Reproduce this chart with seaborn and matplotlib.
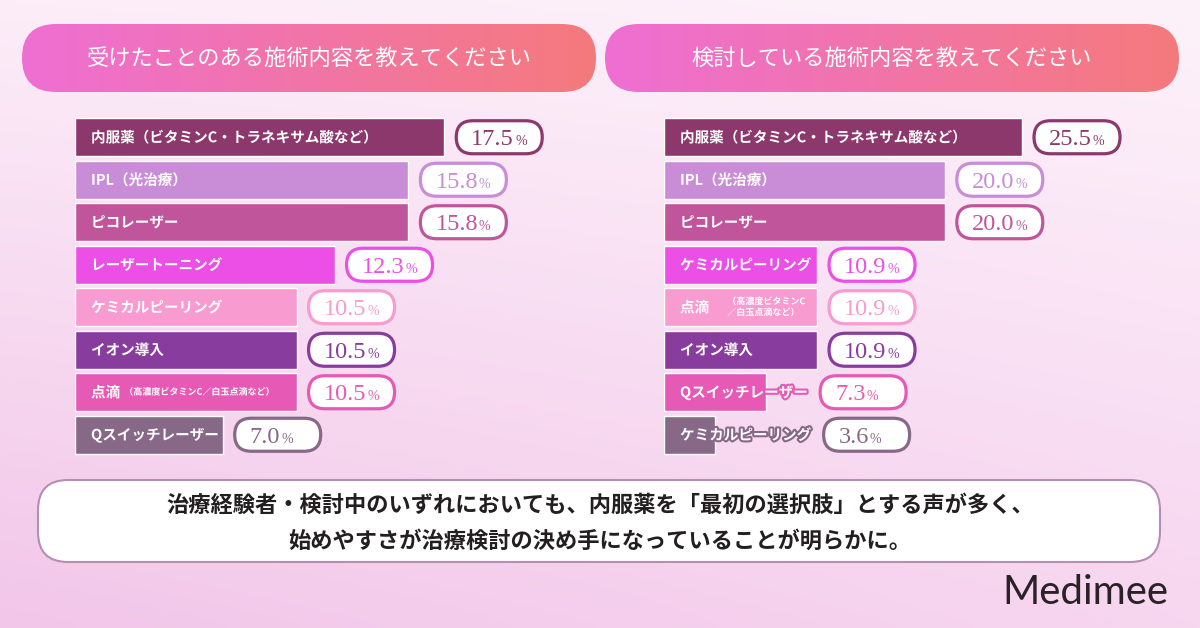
import numpy as np
import pandas as pd
import matplotlib
matplotlib.use("Agg")
import matplotlib.pyplot as plt
import matplotlib.patheffects as pe
from matplotlib.colors import to_rgb
from matplotlib.patches import FancyBboxPatch
import seaborn as sns

# ---- values ----
left_title = "受けたことのある施術内容を教えてください"
right_title = "検討している施術内容を教えてください"

left_labels = ["内服薬（ビタミンC・トラネキサム酸など）", "IPL（光治療）", "ピコレーザー",
               "レーザートーニング", "ケミカルピーリング", "イオン導入", "点滴", "Qスイッチレーザー"]
left_values = [17.5, 15.8, 15.8, 12.3, 10.5, 10.5, 10.5, 7.0]

right_labels = ["内服薬（ビタミンC・トラネキサム酸など）", "IPL（光治療）", "ピコレーザー",
                "ケミカルピーリング", "点滴", "イオン導入", "Qスイッチレーザー", "ケミカルピーリング"]
right_values = [25.5, 20.0, 20.0, 10.9, 10.9, 10.9, 7.3, 3.6]

left_note = "（高濃度ビタミンC／白玉点滴など）"
right_note = "（高濃度ビタミンC\n／白玉点滴など）"

summary_lines = ["治療経験者・検討中のいずれにおいても、内服薬を「最初の選択肢」とする声が多く、",
                 "始めやすさが治療検討の決め手になっていることが明らかに。"]
brand = "Medimee"

row_colors = ["#8c386c", "#c98cd6", "#c0559b", "#ec4fe6",
              "#f89bd0", "#873c9e", "#e65ab5", "#876887"]

W, H = 1200, 628
sns.set_theme(style="white")
JP = ["Noto Sans CJK JP", "DejaVu Sans"]
plt.rcParams["font.family"] = JP

fig = plt.figure(figsize=(W / 100, H / 100), dpi=100)

# background layer in pixel coordinates (y down)
bg = fig.add_axes([0, 0, 1, 1])
yy, xx = np.mgrid[0:1:64j, 0:1:128j]
tl, tr = np.array(to_rgb("#fcedf8")), np.array(to_rgb("#fdf2fa"))
bl, br = np.array(to_rgb("#f2c6e9")), np.array(to_rgb("#f7d6f0"))
grad = ((1 - yy)[..., None] * ((1 - xx)[..., None] * tl + xx[..., None] * tr)
        + yy[..., None] * ((1 - xx)[..., None] * bl + xx[..., None] * br))
bg.imshow(grad, extent=(0, W, H, 0), aspect="auto", interpolation="bicubic")
bg.set_xlim(0, W)
bg.set_ylim(H, 0)
bg.axis("off")


def header(x0, width, title):
    box = FancyBboxPatch((x0, 24), width, 68, boxstyle="round,pad=0,rounding_size=34",
                         fc="none", ec="none")
    bg.add_patch(box)
    g = np.linspace(0, 1, 256)[None, :, None]
    c0, c1 = np.array(to_rgb("#ee6fd3")), np.array(to_rgb("#f57a7c"))
    im = bg.imshow(c0 * (1 - g) + c1 * g, extent=(x0, x0 + width, 92, 24), aspect="auto")
    im.set_clip_path(box)
    bg.text(x0 + width / 2, 58, title, color="white", fontsize=16, ha="center", va="center",
            family=JP)


header(22, 574, left_title)
header(605, 574, right_title)
bg.set_xlim(0, W)
bg.set_ylim(H, 0)


def draw_panel(left_px, xmax, labels, values, note):
    ax = fig.add_axes([left_px / W, 1 - 456 / H, 480 / W, 340 / H])
    ax.patch.set_alpha(0)
    df = pd.DataFrame({"row": [f"r{i}" for i in range(len(values))], "value": values})
    pal = dict(zip(df["row"], row_colors))
    sns.barplot(data=df, x="value", y="row", hue="row", palette=pal, orient="h",
                width=0.9, saturation=1, legend=False, ax=ax)
    ax.set_xlim(0, xmax)
    ax.set_ylim(len(values) - 0.5, -0.5)
    ax.axis("off")

    parts = []
    for i, lab in enumerate(labels):
        stroke = [pe.withStroke(linewidth=3, foreground=row_colors[i])]
        t = ax.annotate(lab, xy=(0, i), xytext=(16, 0), textcoords="offset pixels",
                        ha="left", va="center", color="white", fontsize=10.5,
                        fontweight="bold", family=JP, path_effects=stroke)
        row = [t]
        if lab == "点滴":
            gap = 4 if "\n" not in note else 18
            n = ax.annotate(note, xy=(1, 0.5), xycoords=t, xytext=(gap, 0),
                            textcoords="offset pixels", ha="left", va="center",
                            color="white", fontsize=6.5, fontweight="bold", family=JP,
                            linespacing=1.3, path_effects=stroke)
            row.append(n)
        parts.append(row)
    return ax, parts


left_ax, left_parts = draw_panel(75, 480 / 21.1, left_labels, left_values, left_note)
right_ax, right_parts = draw_panel(664, 480 / 14.04, right_labels, right_values, right_note)

fig.canvas.draw()
r = fig.canvas.get_renderer()


def value_pills(ax, parts, values):
    for i, v in enumerate(values):
        color = row_colors[i]
        bx, by = ax.transData.transform((v, i))
        text_end = max(p.get_window_extent(r).x1 for p in parts[i])
        x0 = max(bx, text_end) + 12
        yc = H - by
        bg.add_patch(FancyBboxPatch((x0, yc - 16.5), 86, 33,
                                    boxstyle="round,pad=0,rounding_size=16.5",
                                    fc="white", ec=color, lw=2.3))
        num = bg.text(x0 + 15, yc + 8, f"{v:.1f}", color=color, fontsize=17.5,
                      family="Liberation Serif", ha="left", va="baseline")
        nx = num.get_window_extent(r).x1
        bg.text(nx + 1, yc + 8, "%", color=color, fontsize=10,
                family="Liberation Serif", ha="left", va="baseline")


value_pills(left_ax, left_parts, left_values)
value_pills(right_ax, right_parts, right_values)

# summary box
bg.add_patch(FancyBboxPatch((38, 480), 1122, 82, boxstyle="round,pad=0,rounding_size=30",
                            fc="white", ec="#b58fb1", lw=1.5))
bg.text(600, 505, summary_lines[0], ha="center", va="center", fontsize=16,
        fontweight="bold", color="#231f20", family=JP)
bg.text(600, 541, summary_lines[1], ha="center", va="center", fontsize=16,
        fontweight="bold", color="#231f20", family=JP)

bg.text(1085, 592, brand, ha="center", va="center", fontsize=29, color="#2a2226",
        family="Lato")

fig.savefig("out.png", dpi=100)
